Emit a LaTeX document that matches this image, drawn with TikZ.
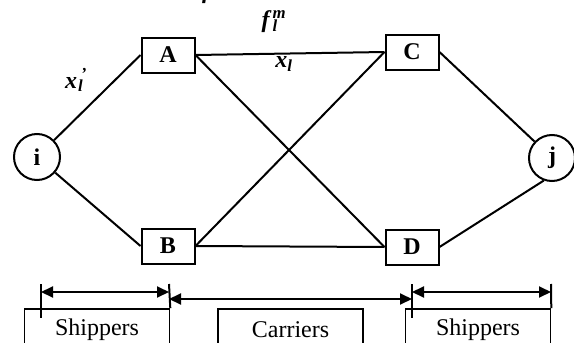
\documentclass[tikz,border=0pt]{standalone}
\usepackage{fontspec}
\setmainfont{Liberation Serif}
\usetikzlibrary{arrows.meta}

\newcommand{\bi}[1]{\textbf{\textit{#1}}}
\newcommand{\flowlab}[3]{\bi{#1}\kern1pt\rlap{\textsubscript{\bi{#2}}}\textsuperscript{\bi{#3}}}

\tikzset{
  hub/.style={draw,circle,line width=2pt,minimum size=46pt,inner sep=0pt,font=\fontsize{24}{28}\selectfont\bfseries},
  firm/.style={draw,rectangle,line width=2pt,minimum width=53pt,minimum height=35pt,inner sep=0pt,font=\fontsize{24}{28}\selectfont\bfseries},
  role/.style={draw,rectangle,line width=1.6pt,minimum width=145pt,minimum height=42pt,inner sep=0pt,font=\fontsize{24}{28}\selectfont},
  flow/.style={font=\fontsize{24}{28}\selectfont},
  link/.style={line width=2pt},
  span/.style={line width=2pt,{Triangle[length=12pt,width=11pt]}-{Triangle[length=12pt,width=11pt]}}
}

\begin{document}
\begin{tikzpicture}[x=1pt,y=-1pt]
    \useasboundingbox (0,0) rectangle (574,343);

    % Origin, destination and the four terminals
    \node[hub] (i) at (37,157) {i};
    \node[hub] (j) at (552,158) {j};
    \node[firm] (A) at (168,55) {A};
    \node[firm] (B) at (168,246) {B};
    \node[firm] (C) at (412,52) {C};
    \node[firm] (D) at (412,247) {D};

    % Links
    \draw[link] (i) -- (A.west);
    \draw[link] (i) -- (B.west);
    \draw[link] (A.east) -- (C.west);
    \draw[link] (A.east) -- (D.west);
    \draw[link] (B.east) -- (C.west);
    \draw[link] (B.east) -- (D.west);
    \draw[link] (C.east) -- (j);
    \draw[link] (D.east) -- (j.250);

    % Flow labels
    \node[flow,anchor=base] (cut) at (207,-2) {\bi{f}};
    \node[flow] (xa) at (76,80) {\flowlab{x}{l}{\,'}};
    \node[flow] (fm) at (274,22) {\flowlab{f}{l}{m}};
    \node[flow] (xl) at (284,64) {\bi{x}\textsubscript{\bi{l}}};

    % Roles along the chain
    \node[role] (shipL) at (97,330) {Shippers};
    \node[role] (carr) at (290.5,330) {Carriers};
    \node[role] (shipR) at (478,330) {Shippers};

    \coordinate (sl) at (41,292);
    \coordinate (sr) at (169,292);
    \coordinate (rl) at (412,292);
    \coordinate (rr) at (551,292);
    \coordinate (ml) at (169,299);
    \coordinate (mr) at (412,299);

    \draw[link] (sl) ++(0,-8) -- ++(0,34);
    \draw[link] (sr) ++(0,-8) -- (shipL.north east);
    \draw[link] (rl) ++(0,-8) -- ++(0,34);
    \draw[link] (rr) ++(0,-8) -- (shipR.north east);

    \draw[span] (sl) -- (sr);
    \draw[span] (ml) -- (mr);
    \draw[span] (rl) -- (rr);
\end{tikzpicture}
\end{document}
